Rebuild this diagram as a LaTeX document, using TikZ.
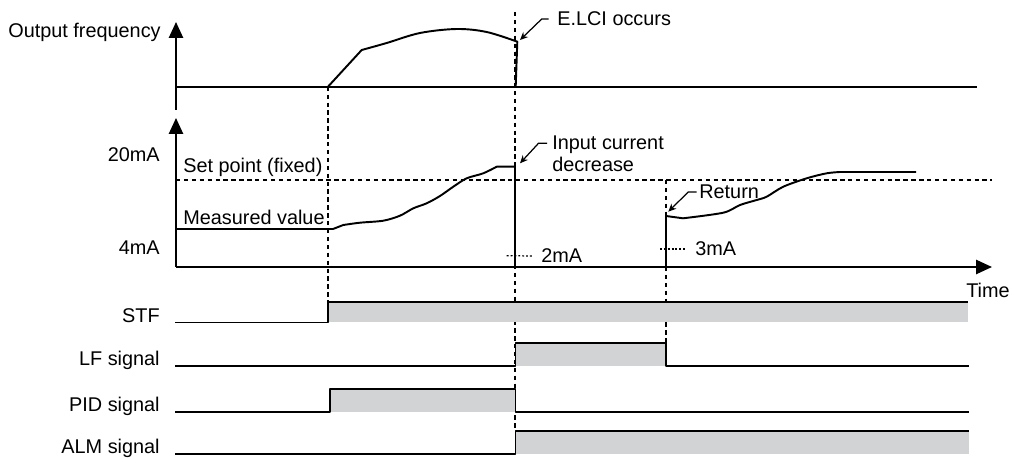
\documentclass[tikz,border=0pt]{standalone}
\usepackage{fontspec}
\setmainfont{Liberation Sans}
\usepackage{xcolor}
\usepackage{tikz}
\usetikzlibrary{positioning,arrows.meta,calc}

\definecolor{sigfill}{RGB}{210,211,213}
\tikzset{
  txt/.style={inner sep=0pt, font=\fontsize{11.3}{12.6}\selectfont},
  sig/.style={line width=1.1pt, line join=round},
  guide/.style={line width=0.6pt, dash pattern=on 2.5pt off 2pt},
  dots/.style={line width=0.7pt, dash pattern=on 1.1pt off 1.1pt},
  lead/.style={line width=0.7pt, -{Stealth[length=4.5pt,width=4pt]}},
  axis/.style={line width=1.1pt, -{Triangle[length=9pt,width=8pt]}},
}

\begin{document}
\begin{tikzpicture}[x=0.02cm,y=-0.02cm]
    \useasboundingbox (0,0) rectangle (1012,459);
    % axes (1 unit = 1 px of the sheet)
    \draw[axis] (176,110) -- (176,22);
    \draw[axis] (176,267) -- (176,118) ;
    \draw[axis] (176,267) -- (992,267);
    \node[txt, anchor=east] (fout) at (161,32) {Output frequency};
    \node[txt, anchor=east] (ma20) at (160,155) {20mA};
    \node[txt, anchor=east] (ma4) at (160,248) {4mA};
    \node[txt, anchor=east] (time) at (1010,290) {Time};
    % timing guides
    \draw[guide] (328,86.7) -- (328,302);
    \draw[guide] (515,12) -- (515,431);
    \draw[guide] (666,180) -- (666,343);
    \draw[guide] (176,180) -- (992,180);
    % output frequency
    \draw[sig] (176,86.7) -- (977,86.7);
    \draw[sig] (328,86.7) -- plot[smooth,tension=0.55] coordinates {(361.7,50) (386.7,43) (420,33) (456.7,29) (486.7,32) (517.3,41.7)} -- (515.7,86.7);
    % measured value and set point
    \node[txt, anchor=west] (setpt) at (183,167) {Set point (fixed)};
    \node[txt, anchor=west] (meas) at (183,217) {Measured value};
    \draw[sig] (176,229) -- (333,229) -- plot[smooth,tension=0.5] coordinates {(343.3,225) (360,222.7) (383.3,220.7) (400,215.7) (413.3,208.3) (426.7,203.3) (440,196) (453.3,186.7) (466.7,178.3) (483.3,173.3) (496.7,166.7)} -- (515,166.7) -- (515,267);
    \draw[sig] (666,267) -- (666,216) -- plot[smooth,tension=0.5] coordinates {(683,218.3) (723.3,212.7) (740,205) (756.7,200) (766.7,196.7) (783.3,186.7) (806.7,178.3) (826.7,173.3) (840,172)} -- (916,172);
    % callouts
    \coordinate (elcitip) at (520,40);
    \coordinate (inptip) at (520,163.3);
    \coordinate (rettip) at (668.3,211.7);
    \coordinate (low2) at (506.7,255.7);
    \coordinate (low3) at (660,249);
    \node[txt, anchor=west] (elci) at (557,19) {E.LCI occurs};
    \node[txt, anchor=north west, align=left] (inp) at (552,135) {Input current\\decrease};
    \node[txt, anchor=west] (ret) at (699,192) {Return};
    \node[txt, anchor=west] (ma2) at (541,256) {2mA};
    \node[txt, anchor=west] (ma3) at (695,249) {3mA};
    \draw[lead] ([xshift=-4.7pt]elci.west) -- ++(-7,0) -- (elcitip);
    \draw[lead] ($(inp.north west)+(-5,8.3)$) -- ++(-8.5,0) -- (inptip);
    \draw[lead] ([xshift=-1.3pt]ret.west) -- ++(-8.5,0) -- (rettip);
    \draw[dots] (low2) -- ([xshift=-4.4pt]ma2.west);
    \draw[dots] (low3) -- ([xshift=-4.6pt]ma3.west);
    % signal labels
    \foreach \nm/\lab/\y in {stf/STF/322.5, lf/LF signal/366, pid/PID signal/412, alm/ALM signal/454} {
      \node[txt, anchor=base east] (\nm) at (160,\y) {\lab};
    }
    % signal levels
    \fill[sigfill] (328,302) rectangle (968,322.5);
    \draw[sig] (175,322.5) -| (328,302) -- (968,302);
    \fill[sigfill] (515.5,343) rectangle (666,366);
    \draw[sig] (175,366) -| (515.5,343) -| (666,366) -- (969,366);
    \fill[sigfill] (330,389) rectangle (515.5,412);
    \draw[sig] (175,412) -| (330,389) -| (515.5,412) -- (969,412);
    \fill[sigfill] (515.5,431) rectangle (969,454);
    \draw[sig] (175,454) -| (515.5,431) -- (969,431);
\end{tikzpicture}
\end{document}
